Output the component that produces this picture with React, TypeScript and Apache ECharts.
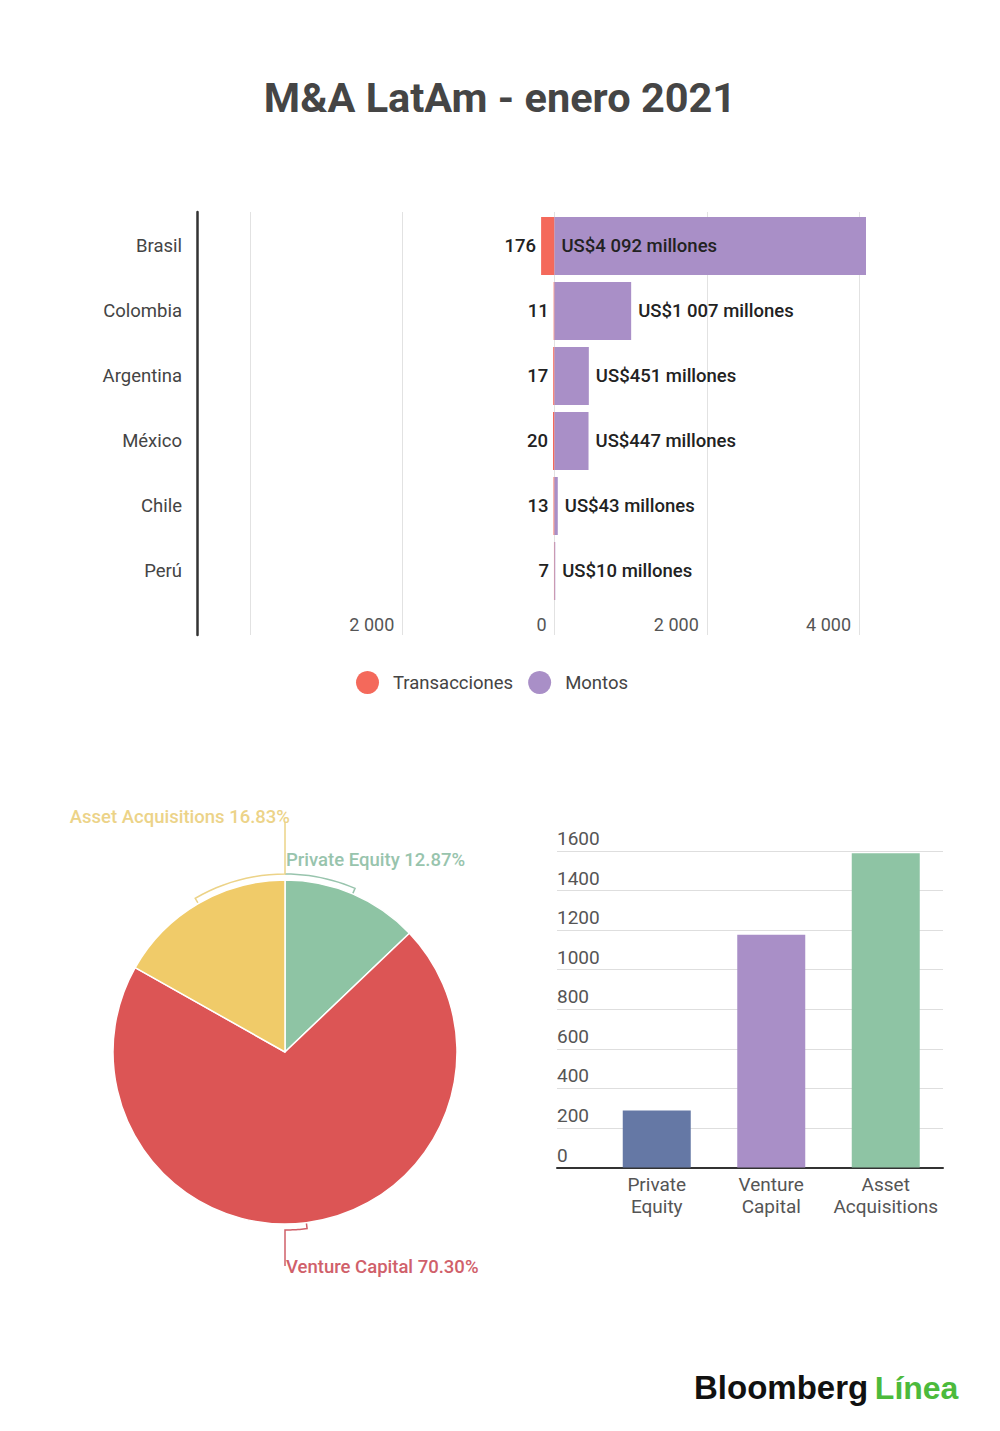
import { useEffect, useRef } from "react";
import * as echarts from "echarts";

const countries = ["Brasil", "Colombia", "Argentina", "México", "Chile", "Perú"];
const transacciones = [176, 11, 17, 20, 13, 7];
const montos = [4092, 1007, 451, 447, 43, 10];
const xTicks = [-4000, -2000, 0, 2000, 4000];

const pieNames = ["Private Equity", "Venture Capital", "Asset Acquisitions"];
const pieShares = [12.87, 70.3, 16.83];

const tipoLabels = ["Private\nEquity", "Venture\nCapital", "Asset\nAcquisitions"];
const tipoValues = [288, 1176, 1589];

const FONT = "Roboto";
const RED = "#f4695b";
const PURPLE = "#a98fc7";
const pieColors = ["#8ec4a4", "#dc5555", "#f0cb69"];
const pieLabelColors = ["#98c4ad", "#d0606a", "#ecd388"];
const barColors = ["#6578a5", "#a98fc7", "#8ec4a4"];

// pie geometry (used for the leader lines too)
const PIE_CX = 285;
const PIE_CY = 1052;
const PIE_R = 172;

const pt = (r: number, deg: number) => [
  PIE_CX + r * Math.cos((deg * Math.PI) / 180),
  PIE_CY - r * Math.sin((deg * Math.PI) / 180),
];

const fmtThousands = (v: number) => {
  const a = Math.abs(v);
  return a >= 1000 ? `${Math.floor(a / 1000)} ${String(a % 1000).padStart(3, "0")}` : String(a);
};

function sliceMid(i: number) {
  const total = pieShares.reduce((s, v) => s + v, 0);
  let cum = 0;
  for (let k = 0; k < i; k++) cum += pieShares[k];
  const a0 = 90 - (360 * cum) / total;
  const a1 = a0 - (360 * pieShares[i]) / total;
  return (a0 + a1) / 2;
}

function pieLabelLayout(params: any) {
  const i = params.dataIndex;
  let mid = sliceMid(i);
  // arc towards the vertical through the pie centre
  const target = i === 1 ? -90 : 90;
  if (i === 2) mid = ((mid % 360) + 360) % 360;
  const pts: number[][] = [pt(PIE_R, mid), pt(PIE_R + 6, mid)];
  const steps = 12;
  for (let s = 1; s <= steps; s++) pts.push(pt(PIE_R + 6, mid + ((target - mid) * s) / steps));
  if (i === 0) {
    return { x: PIE_CX + 1, y: PIE_CY - PIE_R - 20, align: "left", verticalAlign: "middle", labelLinePoints: pts };
  }
  if (i === 1) {
    pts.push([PIE_CX, PIE_CY + PIE_R + 42]);
    return { x: PIE_CX + 1, y: PIE_CY + PIE_R + 43, align: "left", verticalAlign: "middle", labelLinePoints: pts };
  }
  pts.push([PIE_CX, PIE_CY - PIE_R - 58]);
  return { x: PIE_CX + 5, y: PIE_CY - PIE_R - 63, align: "right", verticalAlign: "middle", labelLinePoints: pts };
}

export default function App() {
  const ref = useRef<HTMLDivElement | null>(null);

  useEffect(() => {
    if (!ref.current) return;
    const chart = echarts.init(ref.current, undefined, { renderer: "svg" });
    chart.setOption({
      animation: false,
      backgroundColor: "#fff",
      textStyle: { fontFamily: FONT },
      title: {
        text: "M&A LatAm - enero 2021",
        left: "center",
        top: 71,
        textStyle: { fontFamily: FONT, fontSize: 41.5, fontWeight: "bold", color: "#454545" },
      },
      legend: {
        data: ["Transacciones", "Montos"],
        left: 356,
        top: 671,
        padding: 0,
        icon: "circle",
        itemWidth: 23,
        itemHeight: 23,
        itemGap: 15,
        textStyle: { fontFamily: FONT, fontSize: 18.5, color: "#444", padding: [0, 0, 0, 9] },
      },
      grid: [
        { left: 250, right: 141, top: 212, height: 423 },
        { left: 250, right: 141, top: 213.5, height: 390 },
        { left: 557, right: 57, top: 851, height: 316.5 },
        { left: 599.5, right: 57, top: 851, height: 316.5 },
      ],
      xAxis: [
        {
          gridIndex: 0,
          type: "value",
          min: xTicks[0],
          max: xTicks[xTicks.length - 1],
          interval: 2000,
          axisLine: { show: false },
          axisTick: { show: false },
          splitLine: { lineStyle: { color: "#e2e2e2", width: 1 } },
          axisLabel: {
            inside: true,
            align: "right",
            verticalAlign: "bottom",
            margin: 2,
            padding: [0, 8, 0, 0],
            fontFamily: FONT,
            fontSize: 18,
            color: "#555",
            formatter: (v: number) => (v === xTicks[0] ? "" : fmtThousands(v)),
          },
        },
        {
          gridIndex: 1,
          type: "value",
          min: xTicks[0],
          max: xTicks[xTicks.length - 1],
          show: false,
        },
        {
          gridIndex: 2,
          type: "category",
          data: [""],
          axisLine: { show: true, lineStyle: { color: "#333", width: 2 } },
          axisTick: { show: false },
          axisLabel: { show: false },
        },
        {
          gridIndex: 3,
          type: "category",
          data: tipoLabels,
          axisLine: { show: false },
          axisTick: { show: false },
          axisLabel: { interval: 0, margin: 6, fontFamily: FONT, fontSize: 19, lineHeight: 22, color: "#555" },
        },
      ],
      yAxis: [
        {
          gridIndex: 0,
          type: "value",
          offset: 53,
          axisLine: { show: true, onZero: false, lineStyle: { color: "#333", width: 2.5 } },
          axisTick: { show: false },
          axisLabel: { show: false },
          splitLine: { show: false },
        },
        {
          gridIndex: 1,
          type: "category",
          inverse: true,
          data: countries,
          axisLine: { show: false },
          axisTick: { show: false },
          axisLabel: { margin: 68, fontFamily: FONT, fontSize: 18.5, color: "#444" },
        },
        {
          gridIndex: 2,
          type: "value",
          min: 0,
          max: 1600,
          interval: 200,
          axisLine: { show: false },
          axisTick: { show: false },
          splitLine: { lineStyle: { color: "#dedede" } },
          axisLabel: {
            inside: true,
            align: "left",
            verticalAlign: "bottom",
            margin: 0,
            padding: [0, 0, 3, 0],
            fontFamily: FONT,
            fontSize: 19,
            color: "#555",
            formatter: (v: number) => String(v),
          },
        },
        { gridIndex: 3, type: "value", min: 0, max: 1600, show: false },
      ],
      series: [
        {
          name: "Transacciones",
          type: "bar",
          xAxisIndex: 1,
          yAxisIndex: 1,
          barWidth: 58,
          barGap: "-100%",
          color: RED,
          data: transacciones.map((v) => -v),
          label: {
            show: true,
            position: "left",
            distance: 5,
            fontFamily: FONT,
            fontSize: 18.5,
            fontWeight: 500,
            color: "#222",
            formatter: (p: any) => String(Math.abs(p.value)),
          },
        },
        {
          name: "Montos",
          type: "bar",
          xAxisIndex: 1,
          yAxisIndex: 1,
          barWidth: 58,
          barGap: "-100%",
          color: PURPLE,
          clip: false,
          data: montos.map((v, i) => ({
            value: v,
            label: i === 0 ? { position: "insideLeft", distance: 7 } : undefined,
          })),
          label: {
            show: true,
            position: "right",
            distance: 7,
            fontFamily: FONT,
            fontSize: 18.5,
            fontWeight: 500,
            color: "#222",
            formatter: (p: any) => `US$${fmtThousands(p.value)} millones`,
          },
        },
        {
          name: "Tipo",
          type: "pie",
          center: [PIE_CX, PIE_CY],
          radius: PIE_R,
          startAngle: 90,
          clockwise: true,
          avoidLabelOverlap: false,
          percentPrecision: 2,
          itemStyle: { borderColor: "#fff", borderWidth: 1.5 },
          data: pieNames.map((n, i) => ({
            name: n,
            value: pieShares[i],
            itemStyle: { color: pieColors[i] },
            label: { color: pieLabelColors[i] },
            labelLine: { lineStyle: { color: pieLabelColors[i] } },
          })),
          label: {
            show: true,
            position: "outside",
            fontFamily: FONT,
            fontSize: 18.5,
            fontWeight: 500,
            formatter: (p: any) => `${p.name} ${p.percent.toFixed(2)}%`,
          },
          labelLine: { show: true, smooth: false, lineStyle: { width: 1.5 } },
          labelLayout: pieLabelLayout,
        },
        {
          name: "Tipos",
          type: "bar",
          xAxisIndex: 3,
          yAxisIndex: 3,
          barWidth: 68,
          data: tipoValues.map((v, i) => ({ value: v, itemStyle: { color: barColors[i] } })),
        },
      ],
      graphic: [
        {
          type: "text",
          left: 694,
          top: 1371,
          style: {
            text: "{b|Bloomberg}  {g|Línea}",
            rich: {
              b: { fontFamily: "Liberation Sans", fontWeight: 900, fontSize: 33, fill: "#111" },
              g: { fontFamily: "Liberation Sans", fontWeight: 900, fontSize: 32, fill: "#4cba3c" },
            },
          },
        },
      ],
    });
    return () => chart.dispose();
  }, []);

  return (
    <div style={{ position: "absolute", left: 0, top: 0, width: 1000, height: 1431, background: "#fff" }}>
      <div ref={ref} style={{ width: 1000, height: 1431 }} />
    </div>
  );
}
